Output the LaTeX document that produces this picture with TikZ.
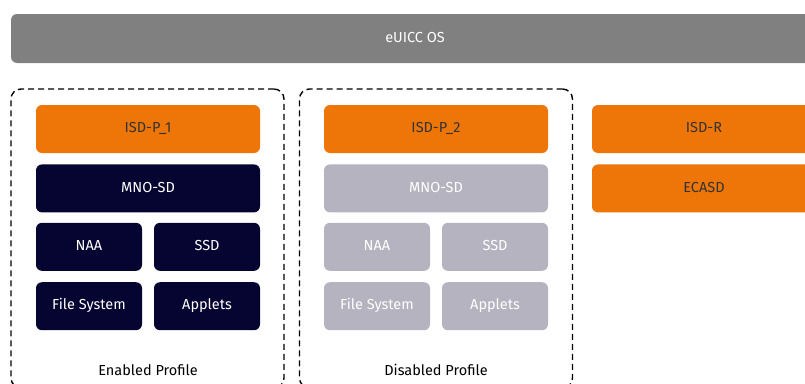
\documentclass[tikz,border=0pt]{standalone}
\usepackage{fontspec}
\setmainfont{Fira Sans}
\usetikzlibrary{positioning}

\definecolor{osgray}{HTML}{808080}
\definecolor{isdorange}{HTML}{EE7508}
\definecolor{mnonavy}{HTML}{060430}
\definecolor{offgray}{HTML}{B4B3BF}
\definecolor{labeltext}{HTML}{333333}

\begin{document}
\begin{tikzpicture}[x=1pt, y=-1pt,
	every node/.style={font=\fontsize{14.5}{17}\selectfont},
	box/.style={rounded corners=6pt, inner sep=0pt, minimum height=48pt, text height=10.5pt, text depth=3pt},
	wide/.style={box, minimum width=224pt},
	half/.style={box, minimum width=106pt},
	isd/.style={wide, fill=isdorange, text=labeltext},
	on/.style={fill=mnonavy, text=white},
	off/.style={fill=offgray, text=white},
	profile/.style={draw, line width=1.4pt, dash pattern=on 6pt off 4pt, rounded corners=10pt, minimum width=273pt, minimum height=299pt, inner sep=0pt}
]

\useasboundingbox (0,0) rectangle (805,383);

\node [box, fill=osgray, text=white, minimum width=808pt, minimum height=49pt] (os) at (415,38.5) {eUICC OS};

%enabled profile
\node [profile] (enabled) at (147.5,238.5) {};
\node [isd] (isdp1) at (148,129) {ISD-P\_1};
\node [wide, on, below=11pt of isdp1] (mnosd1) {MNO-SD};
\node [half, on, below=10pt of mnosd1.south west, anchor=north west] (naa1) {NAA};
\node [half, on, below=10pt of mnosd1.south east, anchor=north east] (ssd1) {SSD};
\node [half, on, below=11pt of naa1] (fs1) {File System};
\node [half, on, below=11pt of ssd1] (applets1) {Applets};
\node [text=black] (enlabel) at (148,370) {Enabled Profile};

%disabled profile
\node [profile] (disabled) at (436,238.5) {};
\node [isd] (isdp2) at (436,129) {ISD-P\_2};
\node [wide, off, below=11pt of isdp2] (mnosd2) {MNO-SD};
\node [half, off, below=10pt of mnosd2.south west, anchor=north west] (naa2) {NAA};
\node [half, off, below=10pt of mnosd2.south east, anchor=north east] (ssd2) {SSD};
\node [half, off, below=11pt of naa2] (fs2) {File System};
\node [half, off, below=11pt of ssd2] (applets2) {Applets};
\node [text=black] (dislabel) at (436,370) {Disabled Profile};

%issuer domains outside the profiles
\node [isd] (isdr) at (704,129) {ISD-R};
\node [isd, below=11pt of isdr] (ecasd) {ECASD};

\end{tikzpicture}
\end{document}
